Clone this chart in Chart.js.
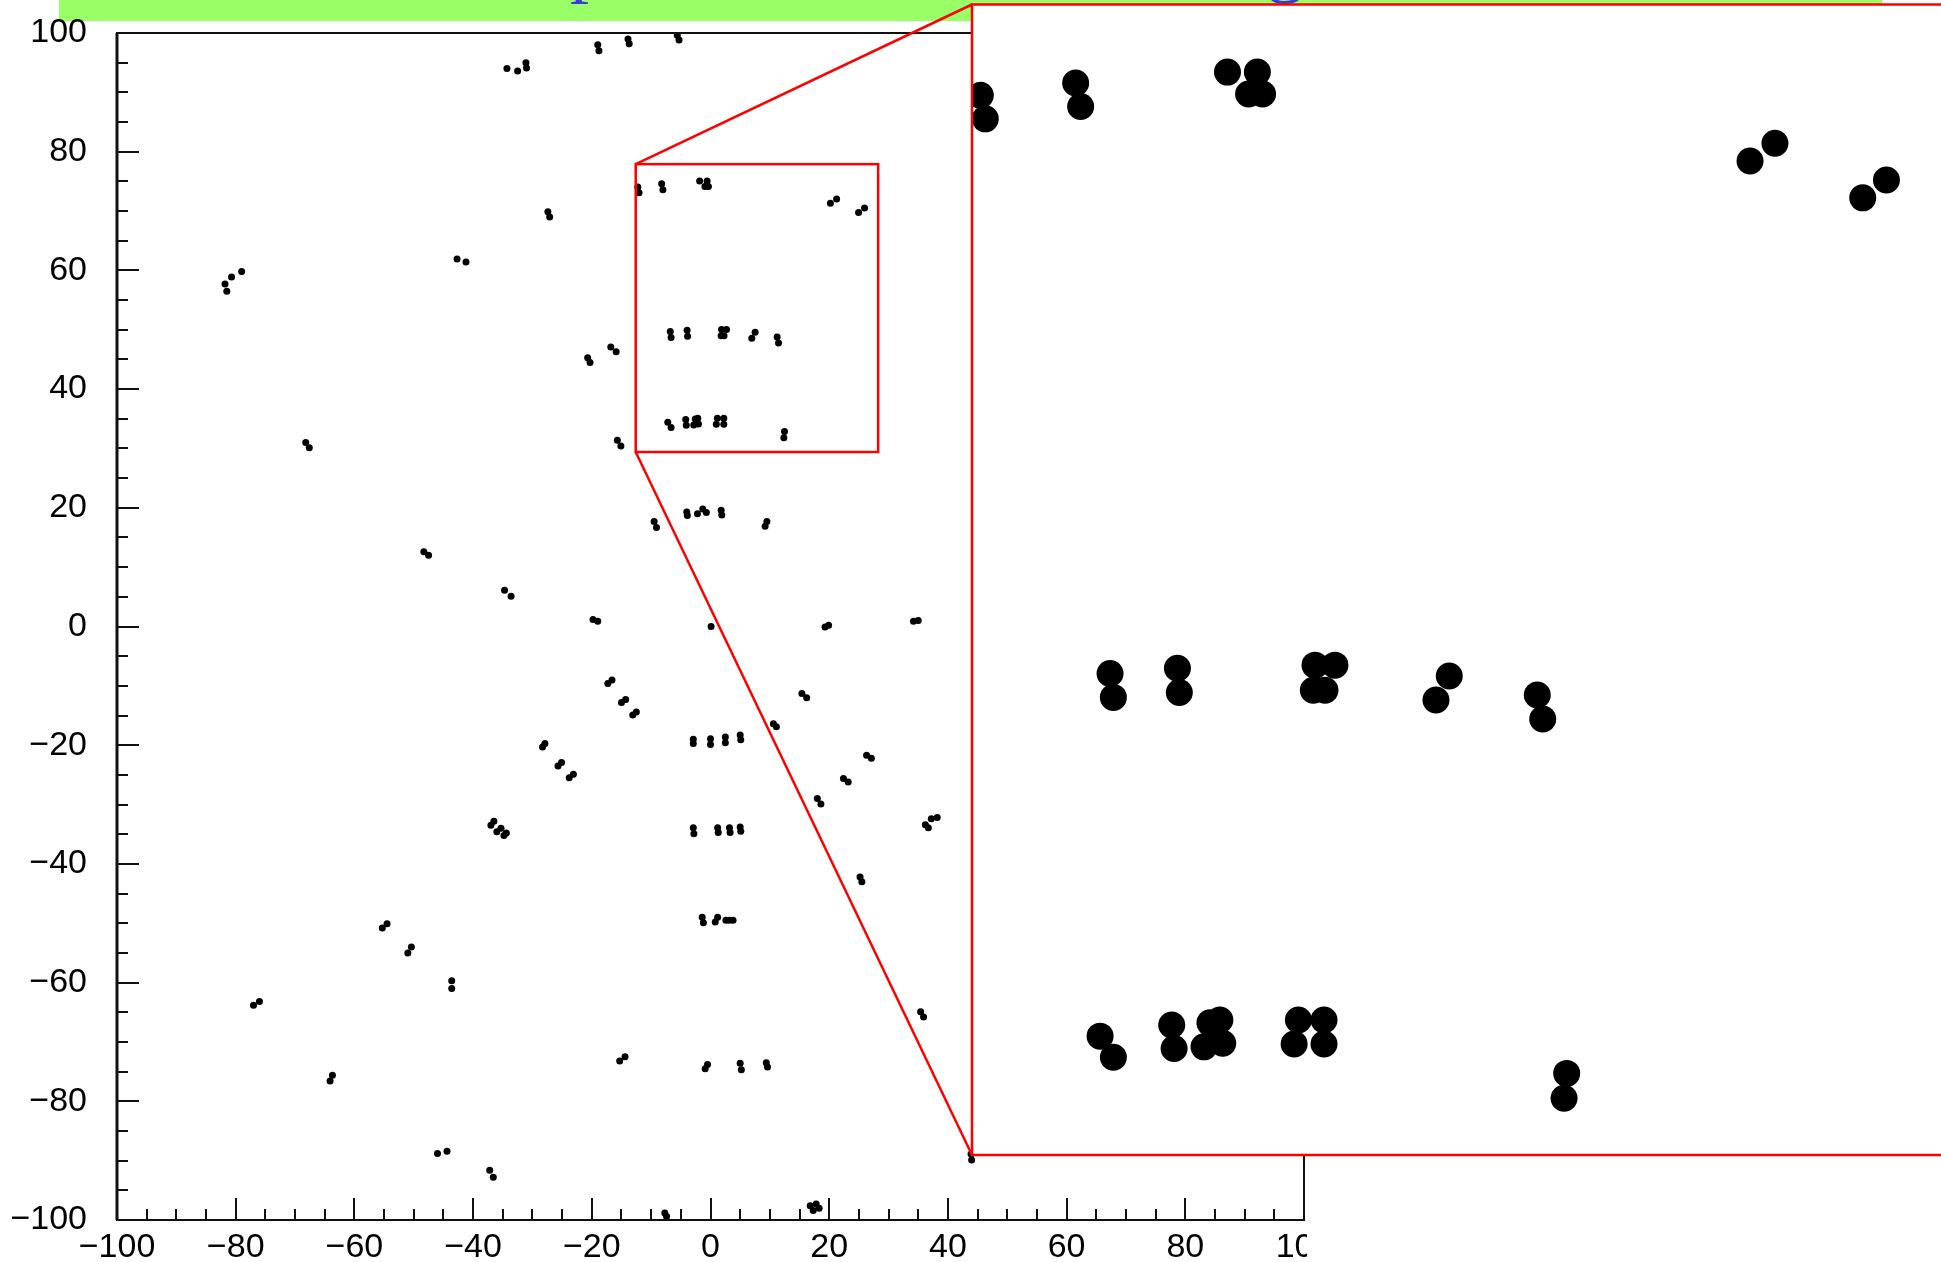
<!DOCTYPE html>
<html>
<head>
<meta charset="utf-8">
<script src="https://cdn.jsdelivr.net/npm/chart.js@4.4.1/dist/chart.umd.min.js"></script>
<style>
  html, body { margin: 0; padding: 0; width: 1941px; height: 1262px; overflow: hidden; background: #fff; }
  #banner { position: absolute; left: 59px; top: 0; width: 1823px; height: 21px; background: #99ff66; overflow: hidden; z-index: 1; }
  #banner span { position: absolute; left: 432px; top: -76px; font: 76px/1 'Liberation Serif', serif; color: #3a3ad6; white-space: nowrap; }
  #mainWrap { position: absolute; left: 0; top: 0; width: 1307px; height: 1262px; overflow: hidden; z-index: 2; }
  #insetWrap { position: absolute; left: 970px; top: 3px; z-index: 3; }
  canvas { display: block; }
</style>
</head>
<body>
<div id="banner"><span>Top view with zoomed region</span></div>
<div id="mainWrap"><canvas id="main" width="1400" height="1262"></canvas></div>
<div id="insetWrap"><canvas id="inset" width="971" height="1154"></canvas></div>
<script>
// Hit positions (x, y) grouped by area of the plane
const upperLeftX = [-34.3, -32.5, -31.1, -31.0, -27.4, -27.1, -42.7, -41.2, -81.8, -81.5, -80.7, -79.0,
                    -68.2, -67.6, -48.3, -47.5, -34.7, -33.6];
const upperLeftY = [94.0, 93.6, 95.0, 94.1, 69.9, 69.0, 61.9, 61.4, 57.7, 56.5, 58.9, 59.8,
                    31.0, 30.1, 12.6, 12.0, 6.1, 5.1];

const upperCentreX = [-19.0, -18.8, -13.9, -13.7, -5.6, -5.3, -20.7, -20.3, -16.8, -15.9, -15.7, -15.1,
                      -9.5, -9.1, -4.0, -3.9, -2.2, -1.3, -0.7, 1.8, 1.9, 9.2, 9.5,
                      -19.8, -19.0, 0.1, 19.3, 19.9, 34.2, 35.0];
const upperCentreY = [98.0, 97.0, 99.0, 98.2, 99.6, 98.8, 45.3, 44.5, 47.1, 46.3, 31.4, 30.4,
                      17.7, 16.7, 19.3, 18.7, 19.0, 19.8, 19.2, 19.6, 18.8, 16.9, 17.7,
                      1.2, 0.9, 0.0, -0.1, 0.2, 0.9, 1.0];

const zoomRowsX = [-12.25, -12.04, -8.23, -8.02, -1.83, -0.57, -0.94, -0.35, 21.25, 20.2, 25.95, 24.95,
                   -6.78, -6.64, -3.94, -3.86, 1.86, 2.70, 1.79, 2.28, 7.52, 6.96, 11.23, 11.46,
                   -7.20, -6.64, -4.18, -4.08, -2.57, -2.15, -2.82, -2.03, 1.16, 2.24, 0.98, 2.24, 12.47, 12.36];
const zoomRowsY = [74.07, 73.08, 74.59, 73.60, 75.05, 75.05, 74.13, 74.13, 72.05, 71.30, 70.50, 69.75,
                   49.70, 48.69, 49.92, 48.90, 50.05, 50.05, 48.99, 48.99, 49.59, 48.58, 48.79, 47.78,
                   34.41, 33.52, 34.88, 33.89, 34.97, 35.09, 33.96, 34.11, 35.09, 35.09, 34.08, 34.08, 32.84, 31.79];

const lowerLeftX = [-28.3, -27.9, -25.7, -25.1, -23.8, -23.1, -37.0, -36.5, -36.0, -35.3, -34.8, -34.4,
                    -55.3, -54.5, -51.0, -50.4, -43.6, -43.6, -77.0, -76.0, -64.1, -63.7, -46.0, -44.4, -37.2, -36.6];
const lowerLeftY = [-20.3, -19.7, -23.5, -22.9, -25.5, -24.9, -33.5, -32.8, -34.6, -34.0, -35.2, -34.8,
                    -50.8, -50.1, -55.0, -54.0, -59.7, -61.0, -63.8, -63.2, -76.6, -75.6, -88.8, -88.4, -91.6, -92.8];

const lowerCentreX = [-17.3, -16.6, -15.0, -14.3, -13.1, -12.5,
                      -2.9, -2.9, 0.0, 0.0, 2.5, 2.5, 5.0, 5.1,
                      -2.9, -2.8, 1.2, 1.3, 3.2, 3.3, 5.0, 5.1,
                      -1.4, -1.2, 0.8, 1.2, 2.6, 3.2, 3.8,
                      -15.3, -14.4, -0.9, -0.5, 5.0, 5.2, 9.4, 9.6,
                      -7.7, -7.4, 16.8, 17.3, 17.8, 18.3];
const lowerCentreY = [-9.6, -9.0, -12.8, -12.3, -14.9, -14.4,
                      -19.0, -19.7, -18.9, -19.9, -18.6, -19.6, -18.3, -19.1,
                      -33.9, -34.9, -33.9, -34.7, -33.9, -34.7, -33.8, -34.5,
                      -49.0, -49.9, -49.8, -49.0, -49.5, -49.5, -49.5,
                      -73.2, -72.5, -74.5, -73.8, -73.6, -74.7, -73.5, -74.2,
                      -98.8, -99.4, -97.6, -98.4, -97.3, -98.0];

const rightSideX = [10.6, 11.1, 15.4, 16.2, 18.0, 18.6, 22.4, 23.2, 26.3, 27.1, 25.2, 25.5,
                    36.2, 36.7, 37.2, 38.2, 35.4, 35.9, 43.9, 44.0];
const rightSideY = [-16.4, -16.9, -11.3, -12.0, -29.0, -29.9, -25.6, -26.2, -21.7, -22.2, -42.2, -43.0,
                    -33.4, -33.9, -32.4, -32.2, -64.9, -65.8, -88.9, -89.9];

// Axis range, label step and the magnified window
const axisRange = [-100, 100];
const labelStep = 20;
const zoomX = [-12.6, 28.25];
const zoomY = [29.4, 77.9];

const groupsX = [upperLeftX, upperCentreX, zoomRowsX, lowerLeftX, lowerCentreX, rightSideX];
const groupsY = [upperLeftY, upperCentreY, zoomRowsY, lowerLeftY, lowerCentreY, rightSideY];
const hits = [];
groupsX.forEach((gx, g) => gx.forEach((v, i) => hits.push({ x: v, y: groupsY[g][i] })));

const fmt = v => (v < 0 ? '\u2212' + Math.abs(v) : String(v));

// Magnified view: white panel with red outline
const insetPanel = {
  id: 'insetPanel',
  beforeDraw(chart) {
    const a = chart.chartArea, ctx = chart.ctx;
    ctx.save();
    ctx.fillStyle = '#ffffff';
    ctx.fillRect(a.left, a.top, a.right - a.left, a.bottom - a.top);
    ctx.restore();
  },
  afterDraw(chart) {
    const a = chart.chartArea, ctx = chart.ctx;
    ctx.save();
    ctx.strokeStyle = '#ff0000';
    ctx.lineWidth = 2.5;
    ctx.beginPath();
    ctx.moveTo(chart.width + 5, a.top);
    ctx.lineTo(a.left, a.top);
    ctx.lineTo(a.left, a.bottom);
    ctx.lineTo(chart.width + 5, a.bottom);
    ctx.stroke();
    ctx.restore();
  }
};

const insetChart = new Chart(document.getElementById('inset'), {
  type: 'scatter',
  data: { datasets: [{ data: hits, pointRadius: 13.5, pointHoverRadius: 13.5, pointBorderWidth: 0,
                       backgroundColor: '#000', borderColor: '#000', clip: 0 }] },
  options: {
    responsive: false, animation: false, devicePixelRatio: 1,
    layout: { autoPadding: false, padding: { left: 2, top: 1.5, right: 0, bottom: 2 } },
    plugins: { legend: { display: false }, tooltip: { enabled: false } },
    scales: {
      x: { type: 'linear', min: zoomX[0], max: zoomX[1], display: false },
      y: { type: 'linear', min: zoomY[0], max: zoomY[1], display: false }
    }
  },
  plugins: [insetPanel]
});

// Frame, inward ticks, zoom window and its connector lines
const frameAndZoom = {
  id: 'frameAndZoom',
  afterDraw(chart) {
    const { ctx, chartArea: a } = chart;
    const sx = chart.scales.x, sy = chart.scales.y;
    ctx.save();
    ctx.strokeStyle = '#111';
    ctx.lineWidth = 2;
    ctx.strokeRect(a.left, a.top, a.right - a.left, a.bottom - a.top);
    ctx.lineWidth = 3;
    ctx.beginPath(); ctx.moveTo(a.left, a.top); ctx.lineTo(a.left, a.bottom); ctx.stroke();
    ctx.lineWidth = 2;
    ctx.beginPath();
    for (let v = axisRange[0]; v <= axisRange[1]; v += 5) {
      const len = v % labelStep === 0 ? 22 : 11;
      const px = Math.round(sx.getPixelForValue(v));
      ctx.moveTo(px, a.bottom); ctx.lineTo(px, a.bottom - len);
      const py = Math.round(sy.getPixelForValue(v));
      ctx.moveTo(a.left, py); ctx.lineTo(a.left + len, py);
    }
    ctx.stroke();

    const bx0 = sx.getPixelForValue(zoomX[0]), bx1 = sx.getPixelForValue(zoomX[1]);
    const by0 = sy.getPixelForValue(zoomY[1]), by1 = sy.getPixelForValue(zoomY[0]);
    ctx.strokeStyle = '#ff0000';
    ctx.lineWidth = 2.5;
    ctx.strokeRect(bx0, by0, bx1 - bx0, by1 - by0);

    const wrap = document.getElementById('insetWrap');
    const ia = insetChart.chartArea;
    const ix = wrap.offsetLeft + ia.left, iyTop = wrap.offsetTop + ia.top, iyBot = wrap.offsetTop + ia.bottom;
    ctx.beginPath();
    ctx.moveTo(bx0, by0); ctx.lineTo(ix, iyTop);
    ctx.moveTo(bx0, by1); ctx.lineTo(ix, iyBot);
    ctx.stroke();
    ctx.restore();
  }
};

new Chart(document.getElementById('main'), {
  type: 'scatter',
  data: { datasets: [{ data: hits, pointRadius: 3.5, pointHoverRadius: 3.5, pointBorderWidth: 0,
                       backgroundColor: '#000', borderColor: '#000' }] },
  options: {
    responsive: false, animation: false, devicePixelRatio: 1,
    layout: { autoPadding: false, padding: { left: 0, top: 33, right: 96, bottom: 0 } },
    plugins: { legend: { display: false }, tooltip: { enabled: false } },
    scales: {
      x: {
        type: 'linear', min: axisRange[0], max: axisRange[1],
        grid: { display: false, drawTicks: false }, border: { display: false },
        ticks: { stepSize: labelStep, autoSkip: false, maxRotation: 0, padding: 7, color: '#000',
                 font: { family: 'Liberation Sans', size: 34 }, callback: fmt },
        afterFit(s) { s.height = 42; s.paddingLeft = 0; s.paddingRight = 0; }
      },
      y: {
        type: 'linear', min: axisRange[0], max: axisRange[1],
        grid: { display: false, drawTicks: false }, border: { display: false },
        ticks: { stepSize: labelStep, autoSkip: false, padding: 30, color: '#000',
                 font: { family: 'Liberation Sans', size: 34 }, callback: fmt },
        afterFit(s) { s.width = 117; s.paddingTop = 0; s.paddingBottom = 0; }
      }
    }
  },
  plugins: [frameAndZoom]
});
</script>
</body>
</html>
